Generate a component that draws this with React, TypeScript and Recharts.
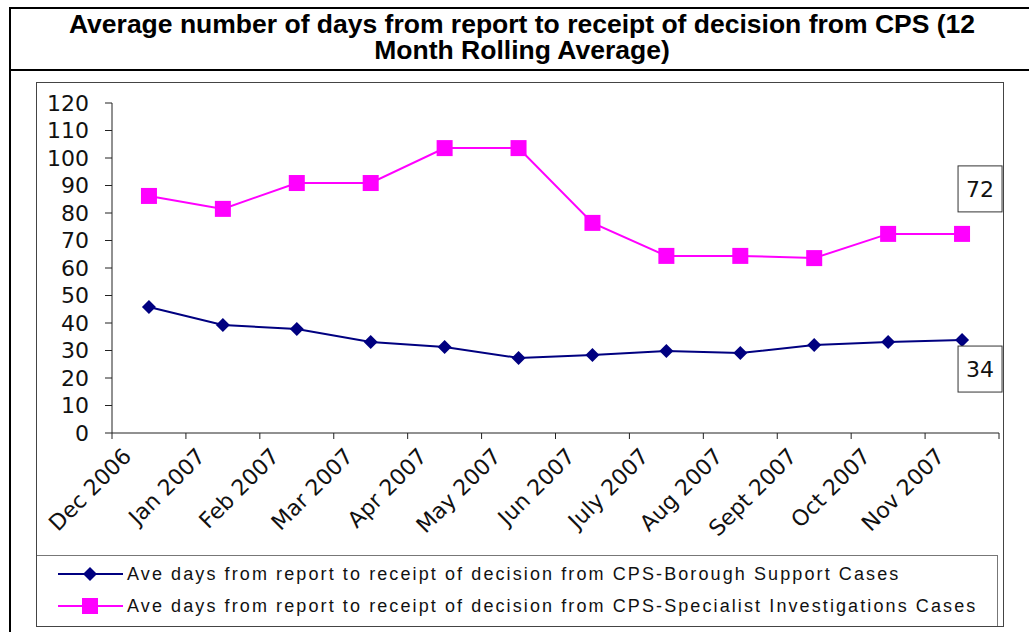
import React from 'react';
import { LineChart, Line, XAxis, YAxis, Legend, LabelList } from 'recharts';

const months = [
  'Dec 2006', 'Jan 2007', 'Feb 2007', 'Mar 2007', 'Apr 2007', 'May 2007',
  'Jun 2007', 'July 2007', 'Aug 2007', 'Sept 2007', 'Oct 2007', 'Nov 2007',
];
const boroughSupport = [45.8, 39.3, 37.8, 33.1, 31.3, 27.3, 28.4, 29.8, 29.1, 32, 33.1, 33.8];
const specialistInvestigations = [86.2, 81.5, 90.9, 90.9, 103.6, 103.6, 76.4, 64.4, 64.4, 63.6, 72.4, 72.4];
const yTicks = [0, 10, 20, 30, 40, 50, 60, 70, 80, 90, 100, 110, 120];
// category boundaries: tick marks sit between months, as in the original
const boundaryTicks = months.map((_, i) => i).concat(months.length);
const seriesNames = [
  'Ave days from report to receipt of decision from CPS-Borough Support Cases',
  'Ave days from report to receipt of decision from CPS-Specialist Investigations Cases',
];
const titleLines = [
  'Average number of days from report to receipt of decision from CPS (12',
  'Month Rolling Average)',
];

const NAVY = '#000080';
const MAGENTA = '#FF00FF';
const FONT = '"Liberation Sans", Arial, sans-serif';
const AXIS_FONT = '"DejaVu Sans", Verdana, sans-serif';

const chartData = months.map((m, i) => ({
  pos: i + 0.5,
  month: m,
  borough: boroughSupport[i],
  specialist: specialistInvestigations[i],
}));

const Diamond = (props: any) => {
  const { cx, cy, index } = props;
  if (cx == null || cy == null) return null;
  return (
    <polygon
      key={`d-${index}`}
      points={`${cx},${cy - 7} ${cx + 7},${cy} ${cx},${cy + 7} ${cx - 7},${cy}`}
      fill={NAVY}
    />
  );
};

const Square = (props: any) => {
  const { cx, cy, index } = props;
  if (cx == null || cy == null) return null;
  return <rect key={`s-${index}`} x={cx - 8} y={cy - 8} width={16} height={16} fill={MAGENTA} />;
};

const endLabel = (dx: number, dy: number) => (props: any) => {
  const { x, y, value, index } = props;
  if (index !== months.length - 1) return null;
  const bx = x + dx;
  const by = y + dy;
  return (
    <g>
      <rect x={bx - 22} y={by - 23} width={44} height={46} fill="#fff" stroke="#333" />
      <text x={bx} y={by} dy="0.36em" textAnchor="middle" fontFamily={AXIS_FONT} fontSize={22} fill="#111">
        {Math.round(value)}
      </text>
    </g>
  );
};

// label for the month that starts at this boundary tick
const MonthTick = (props: any) => {
  const { x, y, payload } = props;
  const label = months[payload.value];
  if (!label) return null;
  return (
    <g transform={`translate(${x + 15},${y + 11})`}>
      <text textAnchor="end" dy="0.36em" transform="rotate(-45)" fontFamily={AXIS_FONT} fontSize={22} fill="#111">
        {label}
      </text>
    </g>
  );
};

const renderLegend = () => (
  <div
    style={{
      position: 'relative',
      width: 960,
      height: 70,
      borderTop: '1px solid #777',
      borderRight: '1px solid #777',
      background: '#fff',
      fontFamily: FONT,
      fontSize: 18,
      color: '#111',
    }}
  >
    {seriesNames.map((name, i) => (
      <div key={name} style={{ position: 'absolute', left: 0, top: i === 0 ? 2 : 34, height: 32, width: 960 }}>
        <svg width={86} height={32} style={{ position: 'absolute', left: 0, top: 0 }}>
          <line x1={21} y1={16} x2={86} y2={16} stroke={i === 0 ? NAVY : MAGENTA} strokeWidth={2} />
          {i === 0 ? (
            <polygon points="53,9 60,16 53,23 46,16" fill={NAVY} />
          ) : (
            <rect x={45} y={8} width={16} height={16} fill={MAGENTA} />
          )}
        </svg>
        <span
          style={{
            position: 'absolute',
            left: 90,
            top: 0,
            lineHeight: '32px',
            whiteSpace: 'nowrap',
            letterSpacing: '2.1px',
          }}
        >
          {name}
        </span>
      </div>
    ))}
  </div>
);

export default function App() {
  return (
    <div>
      <div
        style={{
          position: 'absolute',
          left: 9,
          top: 7,
          width: 1030,
          height: 640,
          borderLeft: '2px solid #000',
          borderTop: '2px solid #000',
          boxSizing: 'border-box',
        }}
      >
        <div
          style={{
            height: 62,
            borderBottom: '2px solid #000',
            textAlign: 'center',
            fontFamily: FONT,
            fontWeight: 'bold',
            fontSize: 26.5,
            lineHeight: '26px',
            paddingTop: 2,
            boxSizing: 'border-box',
            color: '#000',
            width: 1022,
            whiteSpace: 'nowrap',
          }}
        >
          {titleLines[0]}
          <br />
          {titleLines[1]}
        </div>
      </div>
      <div
        style={{
          position: 'absolute',
          left: 36,
          top: 82,
          width: 968,
          height: 545,
          border: '1px solid #444',
          boxSizing: 'border-box',
          background: '#fff',
        }}
      >
        <LineChart width={966} height={543} data={chartData} margin={{ top: 20, right: 4, left: 0, bottom: 0 }}>
          <XAxis
            dataKey="pos"
            type="number"
            domain={[0, months.length]}
            ticks={boundaryTicks}
            interval={0}
            tickSize={6}
            height={122}
            tick={<MonthTick />}
            axisLine={{ stroke: '#222' }}
            tickLine={{ stroke: '#222' }}
          />
          <YAxis
            domain={[0, 120]}
            ticks={yTicks}
            width={75}
            tickSize={7}
            tickMargin={16}
            interval={0}
            axisLine={{ stroke: '#222' }}
            tickLine={{ stroke: '#222' }}
            tick={{ fontFamily: AXIS_FONT, fontSize: 22, fill: '#111' }}
          />
          <Legend verticalAlign="bottom" content={renderLegend} wrapperStyle={{ left: 0, bottom: 0, width: 961, height: 71 }} />
          <Line
            dataKey="specialist"
            name={seriesNames[1]}
            stroke={MAGENTA}
            strokeWidth={2}
            dot={<Square />}
            isAnimationActive={false}
          >
            <LabelList dataKey="specialist" content={endLabel(18, -45)} />
          </Line>
          <Line
            dataKey="borough"
            name={seriesNames[0]}
            stroke={NAVY}
            strokeWidth={2}
            dot={<Diamond />}
            isAnimationActive={false}
          >
            <LabelList dataKey="borough" content={endLabel(18, 29)} />
          </Line>
        </LineChart>
      </div>
    </div>
  );
}
